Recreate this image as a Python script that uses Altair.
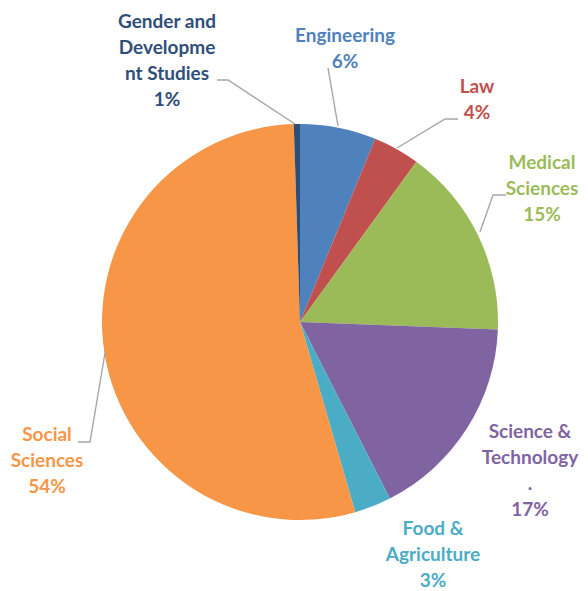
import altair as alt
import pandas as pd

# Data (clockwise from 12 o'clock)
categories = ["Engineering", "Law", "Medical Sciences", "Science & Technology",
              "Food & Agriculture", "Social Sciences", "Gender and Development Studies"]
shares = [6.2, 3.8, 15.6, 16.9, 3.0, 54.0, 0.5]
pct_labels = ["6%", "4%", "15%", "17%", "3%", "54%", "1%"]
label_lines = [
    ["Engineering"],
    ["Law"],
    ["Medical", "Sciences"],
    ["Science &", "Technology", "."],
    ["Food &", "Agriculture"],
    ["Social", "Sciences"],
    ["Gender and", "Developme", "nt Studies"],
]
colors = ["#4F81BD", "#C0504D", "#9BBB59", "#8064A2", "#4BACC6", "#F79646", "#2C4D75"]
text_colors = ["#4F81BD", "#C0504D", "#9BBB59", "#8064A2", "#4BACC6", "#F79646", "#2F4E79"]

# Layout (page pixel positions of label first-line centres and leader lines)
M = 8
label_pos = [(345, 36), (477, 87), (542, 163), (530, 432), (433, 529), (47, 435), (167, 22)]
leaders = {
    "Gender and Development Studies": [(217, 80), (228, 80), (295, 124)],
    "Engineering": [(328, 68), (338, 126)],
    "Law": [(458, 119), (445, 119), (397, 148)],
    "Medical Sciences": [(506, 195), (493, 195), (480, 232)],
    "Social Sciences": [(78, 442), (90, 442), (105, 353)],
}

pie_df = pd.DataFrame({"category": categories, "share": shares,
                       "order": list(range(len(categories)))})

txt_rows = []
for i, c in enumerate(categories):
    x, y = label_pos[i]
    txt_rows.append({"category": c,
                     "text": "\n".join(label_lines[i] + [pct_labels[i]]),
                     "x": x - M, "y": y - M + 6, "color": text_colors[i]})
txt_df = pd.DataFrame(txt_rows)

line_rows = []
for c, pts in leaders.items():
    for j, (x, y) in enumerate(pts):
        line_rows.append({"category": c, "x": x - M, "y": y - M, "k": j})
line_df = pd.DataFrame(line_rows)

W, H = 572, 583
xs = alt.Scale(domain=[0, W], range=[0, W])
ys = alt.Scale(domain=[0, H], range=[0, H])

pie = alt.Chart(pie_df).mark_arc(radius=198).encode(
    theta=alt.Theta("share:Q", stack=True),
    order=alt.Order("order:Q"),
    color=alt.Color("category:N", scale=alt.Scale(domain=categories, range=colors), legend=None),
    x=alt.value(300 - M),
    y=alt.value(322 - M),
)

lines = alt.Chart(line_df).mark_line(color="#A6A6A6", strokeWidth=1.4).encode(
    x=alt.X("x:Q", scale=xs, axis=None),
    y=alt.Y("y:Q", scale=ys, axis=None),
    detail="category:N",
    order="k:Q",
)

texts = alt.Chart(txt_df).mark_text(
    font="Lato", fontWeight="bold", fontSize=19, lineBreak="\n", lineHeight=26,
    align="center", baseline="alphabetic",
).encode(
    x=alt.X("x:Q", scale=xs, axis=None),
    y=alt.Y("y:Q", scale=ys, axis=None),
    text="text:N",
    color=alt.Color("color:N", scale=None),
)

chart = alt.layer(pie, lines, texts).properties(
    width=W, height=H, padding=0,
    autosize=alt.AutoSizeParams(type="none"),
).configure_view(stroke=None)

chart.save("out.html", embed_options={"renderer": "svg", "actions": False})
